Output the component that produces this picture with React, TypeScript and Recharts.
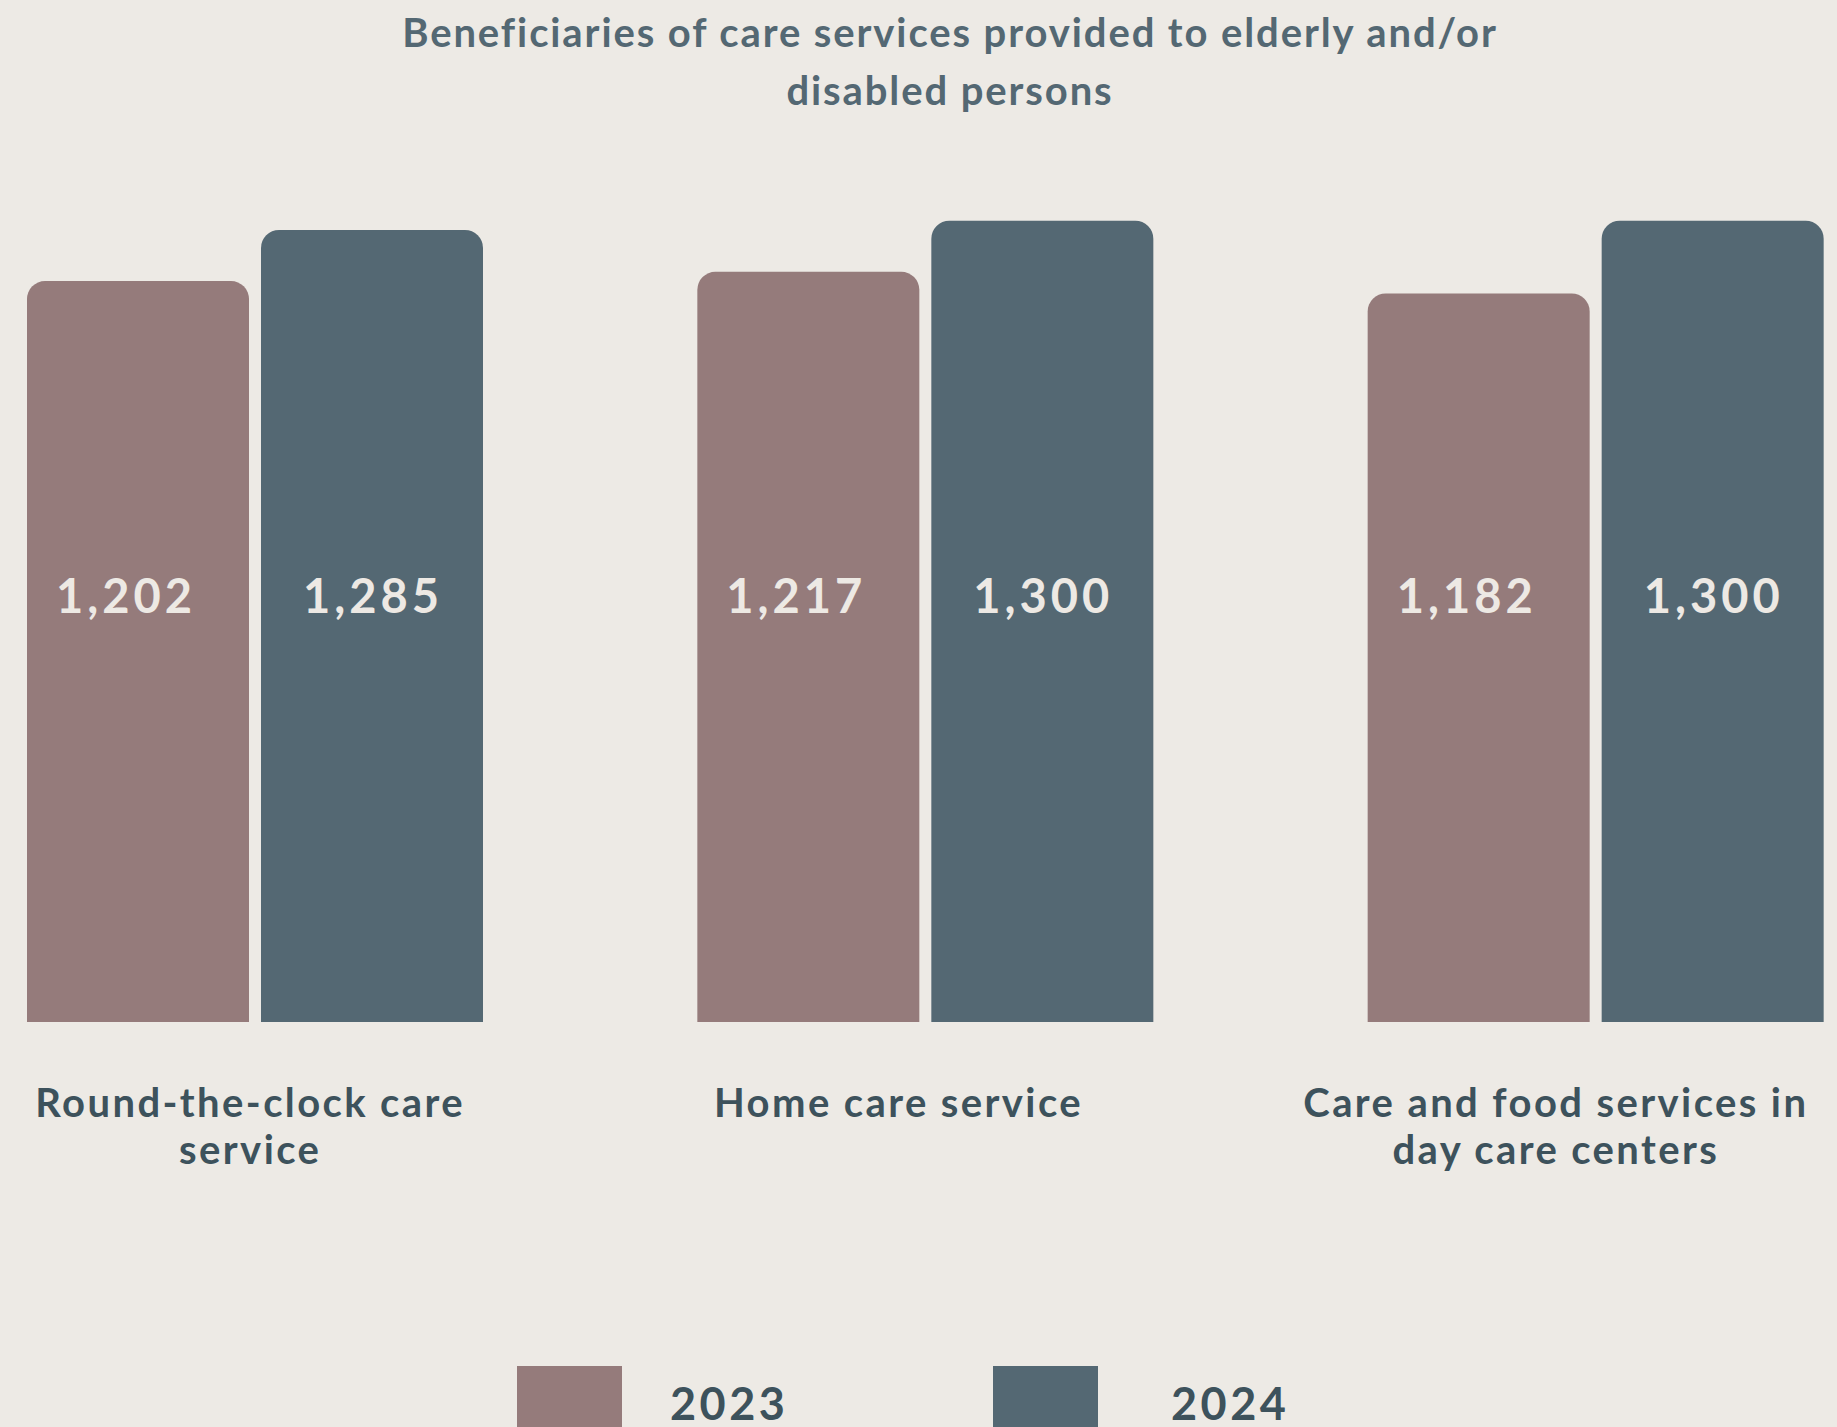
import React from "react";
import { BarChart, Bar, XAxis, YAxis, Legend, LabelList } from "recharts";

const titleLines = ["Beneficiaries of care services provided to elderly and/or", "disabled persons"];
const categories = [
  "Round-the-clock care service",
  "Home care service",
  "Care and food services in day care centers",
];
const tickLines = [
  ["Round-the-clock care", "service"],
  ["Home care service"],
  ["Care and food services in", "day care centers"],
];
const seriesNames = ["2023", "2024"];
const values2023 = [1202, 1217, 1182];
const values2024 = [1285, 1300, 1300];
const yDomain = [0, 1400];

const COLORS = ["#957b7b", "#546873"];
const BG = "#edeae5";
const FONT = "Lato, 'Open Sans', sans-serif";
const TICK_DX = [-5, -27, -40];
const LEGEND_GAP = [48, 73];
const LABEL_DX = [-12, 1];

const data = categories.map((c, i) => ({
  category: c,
  [seriesNames[0]]: values2023[i],
  [seriesNames[1]]: values2024[i],
}));

const fmt = (v: number) => v.toLocaleString("en-US");

const makeValueLabel = (dx: number) => (props: any) => {
  const { x, y, width, height, value } = props;
  const bottom = y + height;
  return (
    <text
      x={x + width / 2 + dx}
      y={bottom - 409}
      textAnchor="middle"
      fill="#ede9e4"
      fontFamily={FONT}
      fontWeight={700}
      fontSize={47}
      letterSpacing={4}
    >
      {fmt(value)}
    </text>
  );
};

const CategoryTick = (props: any) => {
  const { x, y, index } = props;
  const lines = tickLines[index] || [];
  const cx = x + (TICK_DX[index] || 0);
  return (
    <text
      x={cx}
      y={y + 95}
      textAnchor="middle"
      fill="#3d525c"
      fontFamily={FONT}
      fontWeight={700}
      fontSize={40}
      letterSpacing={2.4}
    >
      {lines.map((l, k) => (
        <tspan key={k} x={cx} dy={k === 0 ? 0 : 47}>
          {l}
        </tspan>
      ))}
    </text>
  );
};

const LegendContent = () => (
  <div style={{ display: "flex", flexDirection: "row" }}>
    {seriesNames.map((name, i) => (
      <div key={name} style={{ display: "flex", flexDirection: "row", width: 476 }}>
        <div style={{ width: 105, height: 105, background: COLORS[i] }} />
        <div
          style={{
            marginLeft: LEGEND_GAP[i],
            marginTop: 10,
            fontFamily: FONT,
            fontWeight: 700,
            fontSize: 45,
            lineHeight: "normal",
            letterSpacing: 3.5,
            color: "#3d525c",
          }}
        >
          {name}
        </div>
      </div>
    ))}
  </div>
);

export default function App() {
  return (
    <div
      style={{
        position: "fixed",
        left: 0,
        top: 0,
        width: 1837,
        height: 1427,
        overflow: "hidden",
        background: BG,
      }}
    >
      <div
        style={{
          position: "absolute",
          left: 950 - 700,
          top: 3,
          width: 1400,
          textAlign: "center",
          fontFamily: FONT,
          fontWeight: 700,
          fontSize: 40,
          lineHeight: "58px",
          letterSpacing: 1.9,
          color: "#546873",
          zIndex: 2,
        }}
      >
        {titleLines.map((l, i) => (
          <div key={i}>{l}</div>
        ))}
      </div>
      <div style={{ position: "absolute", left: -80, top: 0 }}>
        <BarChart
          width={2011}
          height={1427}
          data={data}
          margin={{ top: 159, right: 0, left: 0, bottom: 0 }}
          barSize={222}
          barGap={12}
        >
          <XAxis
            dataKey="category"
            axisLine={false}
            tickLine={false}
            tickSize={0}
            tickMargin={0}
            height={405}
            interval={0}
            tick={<CategoryTick />}
          />
          <YAxis hide domain={yDomain} />
          <Legend
            layout="horizontal"
            verticalAlign="middle"
            align="center"
            wrapperStyle={{ top: 1366, left: 597, width: 1000, height: 110 }}
            content={<LegendContent />}
          />
          {seriesNames.map((name, i) => {
            const Label = makeValueLabel(LABEL_DX[i]);
            return (
              <Bar
                key={name}
                dataKey={name}
                fill={COLORS[i]}
                radius={[18, 18, 0, 0]}
                isAnimationActive={false}
              >
                <LabelList dataKey={name} content={<Label />} />
              </Bar>
            );
          })}
        </BarChart>
      </div>
    </div>
  );
}
